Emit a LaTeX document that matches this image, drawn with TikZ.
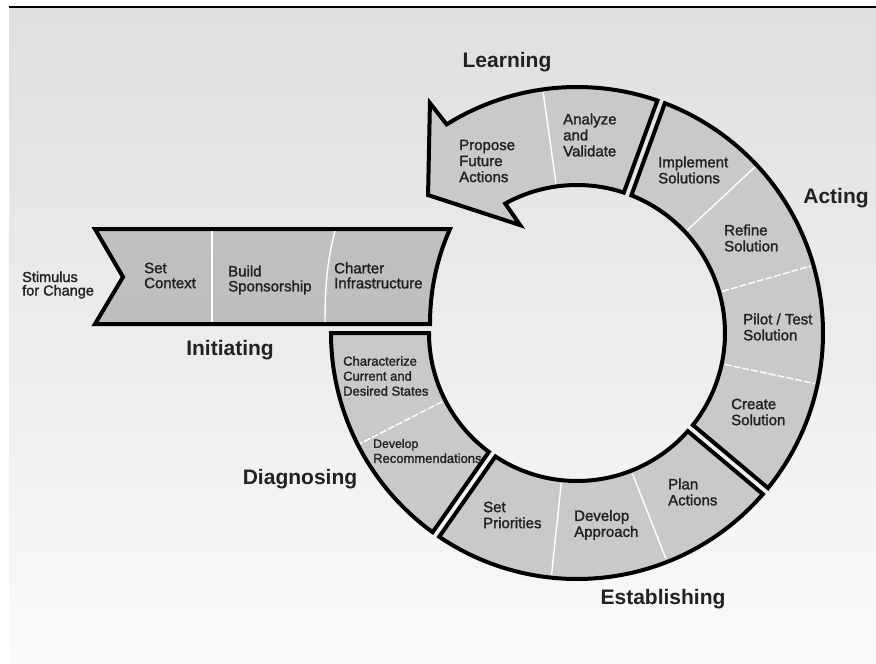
\documentclass[tikz,border=0pt]{standalone}
\usepackage{fontspec}
\setmainfont{Liberation Sans}
\newfontfamily\lblfont[FakeBold=1.6]{Liberation Sans}
\definecolor{bgTop}{HTML}{DFDFDF}
\definecolor{bgBot}{HTML}{FAFAFA}
\definecolor{txt}{HTML}{222222}
\definecolor{ringA}{HTML}{C9C9C9}
\definecolor{ringB}{HTML}{DEDEDE}
\definecolor{ringC}{HTML}{CACACA}
\definecolor{ringD}{HTML}{A4A4A4}
\definecolor{bandTop}{HTML}{C0C0C0}
\definecolor{bandMid}{HTML}{D8D8D8}
\definecolor{bandBot}{HTML}{BEBEBE}
\pgfdeclareradialshading{ringshade}{\pgfpoint{0bp}{0bp}}{color(0bp)=(ringA); color(26bp)=(ringA); color(31bp)=(ringB); color(37bp)=(ringC); color(44bp)=(ringD); color(50bp)=(ringD)}
\begin{document}
\begin{tikzpicture}[x=1pt,y=-1pt,
  seg/.style={draw=black, line width=4pt, line join=miter},
  ringfill/.style={path picture={\shade[shading=ringshade] (rc) circle[radius=280pt];}},
  divline/.style={draw=white, line width=1.4pt},
  dashdiv/.style={draw=white, line width=1.4pt, dash pattern=on 7pt off 2pt},
  lbl/.style={anchor=west, align=left, inner sep=0pt, text=txt, font=\lblfont\fontsize{15}{16}\selectfont},
  smlbl/.style={anchor=west, align=left, inner sep=0pt, text=txt, font=\lblfont\fontsize{13}{15}\selectfont},
  head/.style={inner sep=0pt, text=txt, font=\bfseries\fontsize{21}{21}\selectfont},
]
\useasboundingbox (0,0) rectangle (876,664);
\fill[white] (0,0) rectangle (876,664);
\shade[top color=bgTop, bottom color=bgBot] (9,8) rectangle (876,664);
\draw[line width=2pt] (9,6.5) -- (876,6.5);

% Initiating band
\shadedraw[seg, top color=bandTop, middle color=bandMid, bottom color=bandBot]
  (95,229) -- (450,229) .. controls (437,258) and (430,290) .. (430,324) -- (95,324) -- (123,277) -- cycle;
\draw[divline] (212,231) -- (212,322);
\draw[divline] (335,231) .. controls (327,260) and (325,290) .. (325,322);

% Ring
\begin{scope}[shift={(577,333)}, y=1pt]
\coordinate (rc) at (0,0);
% Learning arrow
\path[seg, ringfill] (70.93:246) arc[start angle=70.93, end angle=122, radius=246]
  -- (122.6:273) -- (137.2:203) -- (117.8:122) -- (119:148)
  arc[start angle=119, end angle=71.55, radius=148] -- cycle;
% Acting
\path[seg, ringfill] (69.07:246) arc[start angle=69.07, end angle=-39.07, radius=246]
  -- (-38.45:148) arc[start angle=-38.45, end angle=68.45, radius=148] -- cycle;
% Establishing
\path[seg, ringfill] (-40.93:246) arc[start angle=-40.93, end angle=-124.07, radius=246]
  -- (-123.45:148) arc[start angle=-123.45, end angle=-41.55, radius=148] -- cycle;
% Diagnosing
\path[seg, ringfill] (-125.93:246) arc[start angle=-125.93, end angle=-180, radius=246]
  -- (-180:148) arc[start angle=-180, end angle=-126.55, radius=148] -- cycle;
% dividers
\draw[divline] (98:151) -- (98:243);
\draw[divline] (43:151) -- (43:243);
\draw[dashdiv] (16:151) -- (16:243);
\draw[dashdiv] (-12:151) -- (-12:243);
\draw[divline] (-68.5:151) -- (-68.5:243);
\draw[divline] (-96:151) -- (-96:243);
\draw[dashdiv] (-153:151) -- (-153:243);
\end{scope}

% Headings
\node[head] (hLearn) at (507,62) {Learning};
\node[head] (hAct) at (836,198) {Acting};
\node[head] (hEst) at (663,599) {Establishing};
\node[head] (hDiag) at (300,479) {Diagnosing};
\node[head] (hInit) at (230,350) {Initiating};

% Initiating labels
\node[lbl, font=\lblfont\fontsize{14.5}{13.5}\selectfont] (stim) at (22,285) {Stimulus\\for Change};
\node[lbl, font=\lblfont\fontsize{15}{15}\selectfont] (setc) at (144,275.5) {Set\\Context};
\node[lbl, font=\lblfont\fontsize{15}{15}\selectfont] (build) at (228,280) {Build\\Sponsorship};
\node[lbl, font=\lblfont\fontsize{15}{15}\selectfont] (chart) at (334,275.5) {Charter\\Infrastructure};

% Learning labels
\node[lbl] (prop) at (459,161) {Propose\\Future\\Actions};
\node[lbl] (anal) at (563,135) {Analyze\\and\\Validate};

% Acting labels
\node[lbl] (impl) at (658,170) {Implement\\Solutions};
\node[lbl] (refi) at (724,238) {Refine\\Solution};
\node[lbl] (pilot) at (743,327) {Pilot / Test\\Solution};
\node[lbl] (creat) at (731,412) {Create\\Solution};

% Establishing labels
\node[lbl] (plan) at (668,492) {Plan\\Actions};
\node[lbl] (devap) at (574,525) {Develop\\Approach};
\node[lbl] (setpr) at (483,515) {Set\\Priorities};

% Diagnosing labels
\node[smlbl] (devrec) at (373,451) {\fontsize{12.3}{10.5}\selectfont Develop\\Recommendations};
\node[smlbl] (charc) at (343,376) {Characterize\\Current and\\Desired States};
\end{tikzpicture}
\end{document}
